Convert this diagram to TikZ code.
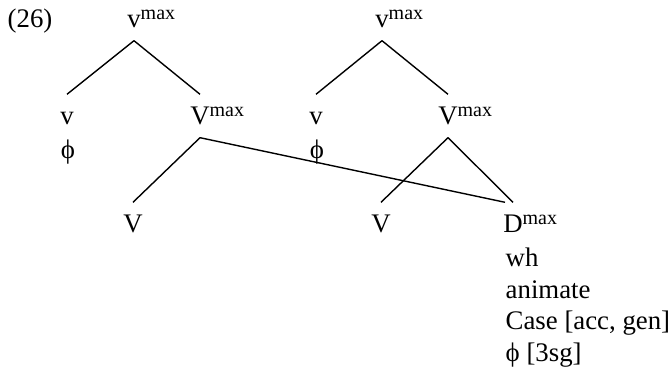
\documentclass[tikz,border=0pt]{standalone}
\usepackage{fontspec}
\setmainfont{Liberation Serif}
\usepackage{tikz}

\newcommand{\maxsup}{\rlap{\raisebox{4bp}{\fontsize{10bp}{12bp}\selectfont max}}}

\begin{document}
\begin{tikzpicture}[x=0.5bp, y=-0.5bp, line width=0.7bp,
    every node/.style={font=\fontsize{13.4bp}{16bp}\selectfont, inner sep=0pt},
    cat/.style={anchor=base, inner ysep=6bp, text height=9bp, text depth=0pt}]
      \useasboundingbox (0,0) rectangle (668,380);
      \node[anchor=base west] (num) at (7,28) {(26)};
      % upper trees
      \node[cat] (vmaxL) at (134,28) {v\maxsup};
      \node[cat] (vmaxR) at (382,28) {v\maxsup};
      \node[cat] (vL) at (67,125) {v};
      \node[cat] (VmaxL) at (200,125) {V\maxsup};
      \node[cat] (vR) at (316,125) {v};
      \node[cat] (VmaxR) at (448,125) {V\maxsup};
      \node[anchor=base] (phiL) at (68,159) {ϕ};
      \node[anchor=base] (phiR) at (317,159) {ϕ};
      % lower level
      \node[cat] (VL) at (133,233) {V};
      \node[cat] (VR) at (381,233) {V};
      \node[cat] (Dmax) at (513,233) {D\maxsup};
      \foreach \t [count=\i] in {wh, animate, {Case [acc, gen]}, {ϕ [3sg]}}
      \node[anchor=base west] (feat\i) at (505,{235.5+31.5*\i}) {\t} ;
      \foreach \a/\b in {vmaxL/vL, vmaxL/VmaxL, vmaxR/vR, vmaxR/VmaxR, VmaxL/VL, VmaxR/VR, VmaxR/Dmax}
      \draw (\a.south) -- (\b.north) ;
      \draw (VmaxL.south) -- ([xshift=-4bp]Dmax.north) ;
    \end{tikzpicture}
\end{document}
